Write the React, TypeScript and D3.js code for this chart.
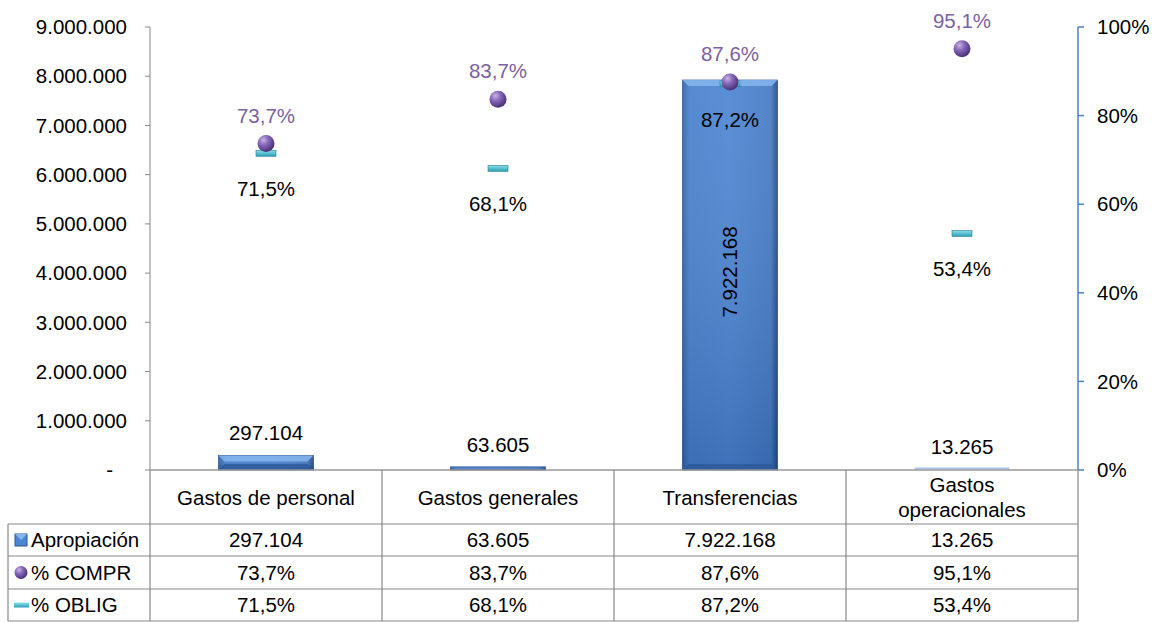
import React, { useEffect, useRef } from 'react';
import * as d3 from 'd3';

const categories = ['Gastos de personal', 'Gastos generales', 'Transferencias', 'Gastos operacionales'];
const apropiacion = [297104, 63605, 7922168, 13265];
const compr = [73.7, 83.7, 87.6, 95.1];
const oblig = [71.5, 68.1, 87.2, 53.4];
const leftTicks = [0, 1000000, 2000000, 3000000, 4000000, 5000000, 6000000, 7000000, 8000000, 9000000];
const rightTicks = [0, 20, 40, 60, 80, 100];
const seriesNames = ['Apropiación', '% COMPR', '% OBLIG'];

const fmtNum = (v: number) => v === 0 ? '-' : d3.format(',')(v).replace(/,/g, '.');
const fmtPct = (v: number) => v.toFixed(1).replace('.', ',') + '%';

export default function App() {
    const svgRef = useRef<SVGSVGElement>(null);

    const width = 1156;
    const height = 623;
    const left = 150, right = 1078, top = 27, bottom = 470;
    const font = '"Liberation Sans", Arial, sans-serif';
    const fs = 20.5;

    useEffect(() => {
        const svg = d3.select(svgRef.current)
            .attr('width', width)
            .attr('height', height);
        svg.selectAll('*').remove();

        const defs = svg.append('defs');
        const barGrad = defs.append('linearGradient').attr('id', 'barGrad')
            .attr('x1', 0).attr('x2', 1).attr('y1', 0).attr('y2', 0);
        barGrad.append('stop').attr('offset', '0%').attr('stop-color', '#2f62aa');
        barGrad.append('stop').attr('offset', '7%').attr('stop-color', '#4780cc');
        barGrad.append('stop').attr('offset', '50%').attr('stop-color', '#4b85d2');
        barGrad.append('stop').attr('offset', '93%').attr('stop-color', '#4479c4');
        barGrad.append('stop').attr('offset', '100%').attr('stop-color', '#23487f');
        const shadeGrad = defs.append('linearGradient').attr('id', 'shadeGrad')
            .attr('x1', 0).attr('x2', 0).attr('y1', 0).attr('y2', 1);
        shadeGrad.append('stop').attr('offset', '0%').attr('stop-color', '#ffffff').attr('stop-opacity', 0.08);
        shadeGrad.append('stop').attr('offset', '100%').attr('stop-color', '#0a2a60').attr('stop-opacity', 0.22);
        const ballGrad = defs.append('radialGradient').attr('id', 'ballGrad')
            .attr('cx', '35%').attr('cy', '30%').attr('r', '70%');
        ballGrad.append('stop').attr('offset', '0%').attr('stop-color', '#c9b3e6');
        ballGrad.append('stop').attr('offset', '45%').attr('stop-color', '#8565b8');
        ballGrad.append('stop').attr('offset', '100%').attr('stop-color', '#4b3277');
        const dashGrad = defs.append('linearGradient').attr('id', 'dashGrad')
            .attr('x1', 0).attr('x2', 0).attr('y1', 0).attr('y2', 1);
        dashGrad.append('stop').attr('offset', '0%').attr('stop-color', '#8fe0ee');
        dashGrad.append('stop').attr('offset', '100%').attr('stop-color', '#2a9fb5');

        const x = d3.scaleBand().domain(categories).range([left, right]);
        const y = d3.scaleLinear().domain([0, 9000000]).range([bottom, top]);
        const yp = d3.scaleLinear().domain([0, 100]).range([bottom, top]);

        // left axis
        const gl = svg.append('g').attr('transform', `translate(${left},0)`);
        gl.append('line').attr('y1', top).attr('y2', bottom).attr('stroke', '#888');
        leftTicks.forEach(t => {
            gl.append('line').attr('x1', -5).attr('x2', 0).attr('y1', y(t)).attr('y2', y(t)).attr('stroke', '#888');
            gl.append('text').attr('x', t === 0 ? -37 : -23).attr('y', y(t)).attr('dy', '0.35em')
                .attr('text-anchor', 'end')
                .attr('font-family', font).attr('font-size', fs).text(fmtNum(t));
        });

        // right axis
        const gr = svg.append('g').attr('transform', `translate(${right},0)`);
        gr.append('line').attr('y1', top).attr('y2', bottom).attr('stroke', '#4f81bd').attr('stroke-width', 1.5);
        rightTicks.forEach(t => {
            gr.append('line').attr('x1', 0).attr('x2', 6).attr('y1', yp(t)).attr('y2', yp(t)).attr('stroke', '#4f81bd').attr('stroke-width', 1.5);
            gr.append('text').attr('x', 19).attr('y', yp(t)).attr('dy', '0.35em')
                .attr('font-family', font).attr('font-size', fs).text(t + '%');
        });

        // bars
        const bw = 95;
        categories.forEach((c, i) => {
            const cx = x(c)! + x.bandwidth() / 2;
            const yt = y(apropiacion[i]);
            const h = bottom - yt;
            const bx = cx - bw / 2;
            if (h < 3) {
                svg.append('rect').attr('x', bx).attr('y', bottom - 2.5).attr('width', bw).attr('height', 2)
                    .attr('fill', '#a8c4e8');
            } else {
                svg.append('rect').attr('x', bx).attr('y', yt).attr('width', bw).attr('height', h)
                    .attr('fill', 'url(#barGrad)').attr('stroke', '#2b558f').attr('stroke-width', 0.8);
                svg.append('rect').attr('x', bx).attr('y', yt).attr('width', bw).attr('height', h)
                    .attr('fill', 'url(#shadeGrad)');
            }
            if (h > 12) {
                svg.append('path')
                    .attr('d', `M${bx},${yt}L${bx + bw},${yt}L${bx + bw - 6},${yt + 6}L${bx + 6},${yt + 6}Z`)
                    .attr('fill', '#86b6ee').attr('opacity', 0.85);
                svg.append('path')
                    .attr('d', `M${bx},${bottom}L${bx + bw},${bottom}L${bx + bw - 6},${bottom - 6}L${bx + 6},${bottom - 6}Z`)
                    .attr('fill', '#2a5596').attr('opacity', 0.7);
            }
            if (h > 200) {
                svg.append('text')
                    .attr('transform', `translate(${cx},${(yt + bottom) / 2 - 3}) rotate(-90)`)
                    .attr('text-anchor', 'middle').attr('dy', '0.35em')
                    .attr('font-family', font).attr('font-size', fs).text(fmtNum(apropiacion[i]));
            } else {
                svg.append('text').attr('x', cx).attr('y', yt - 15).attr('text-anchor', 'middle')
                    .attr('font-family', font).attr('font-size', fs).text(fmtNum(apropiacion[i]));
            }
        });

        // baseline
        svg.append('line').attr('x1', left).attr('x2', right).attr('y1', bottom).attr('y2', bottom)
            .attr('stroke', '#999').attr('stroke-width', 1.6);

        // OBLIG dashes
        categories.forEach((c, i) => {
            const cx = x(c)! + x.bandwidth() / 2;
            const yy = yp(oblig[i]);
            svg.append('rect').attr('x', cx - 10).attr('y', yy - 3).attr('width', 20).attr('height', 6)
                .attr('fill', 'url(#dashGrad)').attr('stroke', '#2a8094').attr('stroke-width', 0.6);
            svg.append('text').attr('x', cx).attr('y', yy + 43).attr('text-anchor', 'middle')
                .attr('font-family', font).attr('font-size', fs).text(fmtPct(oblig[i]));
        });

        // COMPR balls
        categories.forEach((c, i) => {
            const cx = x(c)! + x.bandwidth() / 2;
            const yy = yp(compr[i]);
            svg.append('circle').attr('cx', cx).attr('cy', yy).attr('r', 8.5).attr('fill', 'url(#ballGrad)');
            svg.append('text').attr('x', cx).attr('y', yy - 21).attr('text-anchor', 'middle')
                .attr('font-family', font).attr('font-size', fs).attr('fill', '#7b62a3').text(fmtPct(compr[i]));
        });

        // data table
        const rowY = [bottom, 524, 556, 589, 621];
        const tl = svg.append('g').attr('stroke', '#888').attr('stroke-width', 1.2);
        categories.forEach((c) => {
            const x0 = x(c)!;
            tl.append('line').attr('x1', x0).attr('x2', x0).attr('y1', bottom).attr('y2', 621);
        });
        tl.append('line').attr('x1', right).attr('x2', right).attr('y1', bottom).attr('y2', 621);
        tl.append('line').attr('x1', 8).attr('x2', 8).attr('y1', 524).attr('y2', 621);
        rowY.slice(1).forEach(r => {
            tl.append('line').attr('x1', 8).attr('x2', right).attr('y1', r).attr('y2', r);
        });

        // category header
        categories.forEach(c => {
            const cx = x(c)! + x.bandwidth() / 2;
            const words = c === 'Gastos operacionales' ? ['Gastos', 'operacionales'] : [c];
            words.forEach((w, k) => {
                svg.append('text').attr('x', cx)
                    .attr('y', words.length > 1 ? 492 + k * 25 : 505)
                    .attr('text-anchor', 'middle')
                    .attr('font-family', font).attr('font-size', fs).text(w);
            });
        });

        const rowsVals = [apropiacion.map(fmtNum), compr.map(fmtPct), oblig.map(fmtPct)];
        rowsVals.forEach((vals, r) => {
            const cy = (rowY[r + 1] + rowY[r + 2]) / 2;
            // legend key
            if (r === 0) {
                svg.append('rect').attr('x', 15).attr('y', cy - 6).attr('width', 12).attr('height', 12)
                    .attr('fill', '#4a86d4').attr('stroke', '#2b558f');
                svg.append('path').attr('d', `M15,${cy - 6}L21,${cy}L27,${cy - 6}Z`).attr('fill', '#86b6ee');
            } else if (r === 1) {
                svg.append('circle').attr('cx', 21).attr('cy', cy).attr('r', 6.5).attr('fill', 'url(#ballGrad)');
            } else {
                svg.append('rect').attr('x', 14).attr('y', cy - 2.5).attr('width', 15).attr('height', 5)
                    .attr('fill', 'url(#dashGrad)');
            }
            svg.append('text').attr('x', 31).attr('y', cy).attr('dy', '0.35em')
                .attr('font-family', font).attr('font-size', fs).text(seriesNames[r]);
            vals.forEach((v, i) => {
                const cx = x(categories[i])! + x.bandwidth() / 2;
                svg.append('text').attr('x', cx).attr('y', cy).attr('dy', '0.35em').attr('text-anchor', 'middle')
                    .attr('font-family', font).attr('font-size', fs).text(v);
            });
        });
    }, []);

    return (
        <div style={{ position: 'absolute', left: 0, top: 0 }}>
            <svg ref={svgRef}></svg>
        </div>
    );
}
